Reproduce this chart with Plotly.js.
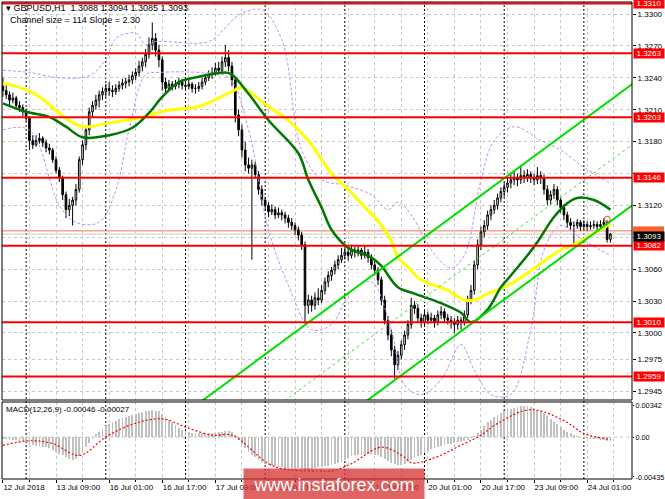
<!DOCTYPE html>
<html><head><meta charset="utf-8">
<script src="https://cdn.plot.ly/plotly-3.0.1.min.js"></script>
<style>html,body{margin:0;padding:0;background:#fff}#chart{width:665px;height:499px}</style>
</head><body><div id="chart"></div>
<script>
// ---- DATA ----
const barOpen = [1.3232,1.3228,1.3224,1.3219,1.3221,1.3214,1.3212,1.3208,1.3202,1.3181,1.3177,1.3181,1.3183,1.3179,1.3174,1.3172,1.3163,1.3153,1.3146,1.3130,1.3116,1.3120,1.3125,1.3135,1.3163,1.3177,1.3191,1.3208,1.3214,1.3219,1.3224,1.3227,1.3230,1.3228,1.3227,1.3230,1.3233,1.3235,1.3236,1.3238,1.3242,1.3245,1.3251,1.3255,1.3262,1.3271,1.3277,1.3266,1.3257,1.3236,1.3230,1.3234,1.3232,1.3234,1.3236,1.3233,1.3232,1.3234,1.3230,1.3230,1.3232,1.3236,1.3240,1.3243,1.3245,1.3249,1.3247,1.3255,1.3259,1.3251,1.3238,1.3205,1.3191,1.3172,1.3158,1.3155,1.3158,1.3149,1.3135,1.3125,1.3120,1.3114,1.3116,1.3111,1.3113,1.3111,1.3108,1.3104,1.3101,1.3097,1.3092,1.3083,1.3026,1.3031,1.3026,1.3033,1.3031,1.3040,1.3048,1.3054,1.3059,1.3064,1.3069,1.3073,1.3076,1.3073,1.3078,1.3076,1.3078,1.3073,1.3076,1.3071,1.3064,1.3059,1.3050,1.3031,1.3012,1.2998,1.2984,1.2970,1.2979,1.2989,1.2998,1.3008,1.3026,1.3023,1.3014,1.3010,1.3017,1.3012,1.3014,1.3010,1.3017,1.3020,1.3014,1.3012,1.3010,1.3008,1.3012,1.3010,1.3017,1.3031,1.3040,1.3064,1.3083,1.3095,1.3101,1.3111,1.3116,1.3120,1.3127,1.3133,1.3137,1.3141,1.3144,1.3146,1.3144,1.3148,1.3146,1.3149,1.3146,1.3144,1.3148,1.3146,1.3135,1.3125,1.3130,1.3135,1.3125,1.3118,1.3111,1.3104,1.3101,1.3101,1.3104,1.3100,1.3102,1.3100,1.3101,1.3102,1.3100,1.3102,1.3104,1.3088];
const barHigh = [1.3240,1.3233,1.3227,1.3226,1.3223,1.3218,1.3215,1.3211,1.3204,1.3186,1.3186,1.3188,1.3185,1.3182,1.3178,1.3174,1.3166,1.3156,1.3148,1.3133,1.3126,1.3128,1.3140,1.3166,1.3181,1.3195,1.3212,1.3218,1.3224,1.3228,1.3231,1.3234,1.3236,1.3233,1.3234,1.3237,1.3239,1.3240,1.3243,1.3246,1.3249,1.3256,1.3259,1.3267,1.3278,1.3292,1.3282,1.3271,1.3260,1.3240,1.3238,1.3237,1.3238,1.3240,1.3239,1.3237,1.3238,1.3236,1.3234,1.3236,1.3240,1.3244,1.3247,1.3250,1.3254,1.3255,1.3260,1.3271,1.3266,1.3255,1.3241,1.3210,1.3196,1.3180,1.3165,1.3163,1.3161,1.3152,1.3139,1.3128,1.3123,1.3121,1.3119,1.3118,1.3116,1.3114,1.3111,1.3108,1.3104,1.3100,1.3095,1.3086,1.3036,1.3035,1.3038,1.3042,1.3045,1.3052,1.3058,1.3062,1.3068,1.3073,1.3080,1.3082,1.3080,1.3083,1.3081,1.3082,1.3080,1.3082,1.3079,1.3074,1.3068,1.3062,1.3053,1.3035,1.3016,1.3003,1.2988,1.2983,1.2993,1.3002,1.3012,1.3033,1.3030,1.3027,1.3018,1.3022,1.3020,1.3019,1.3017,1.3021,1.3025,1.3023,1.3018,1.3016,1.3014,1.3016,1.3015,1.3021,1.3035,1.3045,1.3068,1.3088,1.3100,1.3106,1.3115,1.3120,1.3125,1.3131,1.3137,1.3141,1.3146,1.3150,1.3152,1.3150,1.3158,1.3153,1.3154,1.3152,1.3150,1.3156,1.3152,1.3149,1.3139,1.3134,1.3140,1.3138,1.3128,1.3121,1.3114,1.3108,1.3105,1.3107,1.3106,1.3106,1.3105,1.3105,1.3106,1.3105,1.3106,1.3108,1.3106,1.3094];
const barLow = [1.3222,1.3220,1.3214,1.3216,1.3210,1.3208,1.3204,1.3199,1.3172,1.3173,1.3175,1.3178,1.3175,1.3170,1.3168,1.3160,1.3150,1.3142,1.3125,1.3108,1.3110,1.3101,1.3120,1.3132,1.3158,1.3172,1.3186,1.3203,1.3210,1.3212,1.3219,1.3222,1.3223,1.3222,1.3224,1.3227,1.3229,1.3230,1.3232,1.3234,1.3238,1.3241,1.3246,1.3250,1.3258,1.3266,1.3260,1.3250,1.3228,1.3225,1.3227,1.3228,1.3229,1.3230,1.3229,1.3228,1.3229,1.3226,1.3225,1.3227,1.3229,1.3233,1.3237,1.3239,1.3242,1.3243,1.3244,1.3250,1.3246,1.3232,1.3198,1.3185,1.3165,1.3152,1.3150,1.3069,1.3145,1.3130,1.3120,1.3115,1.3109,1.3111,1.3107,1.3108,1.3106,1.3103,1.3099,1.3097,1.3092,1.3087,1.3078,1.3009,1.3018,1.3020,1.3022,1.3026,1.3028,1.3036,1.3043,1.3049,1.3055,1.3060,1.3066,1.3069,1.3068,1.3070,1.3071,1.3072,1.3069,1.3070,1.3066,1.3060,1.3054,1.3045,1.3026,1.3008,1.2993,1.2978,1.2957,1.2965,1.2975,1.2984,1.2994,1.3004,1.3018,1.3010,1.3005,1.3007,1.3008,1.3009,1.3005,1.3007,1.3013,1.3010,1.3008,1.3004,1.3000,1.3003,1.3003,1.3007,1.3014,1.3027,1.3036,1.3060,1.3078,1.3090,1.3097,1.3106,1.3112,1.3116,1.3123,1.3128,1.3132,1.3136,1.3139,1.3138,1.3140,1.3141,1.3142,1.3141,1.3139,1.3140,1.3140,1.3130,1.3120,1.3121,1.3126,1.3120,1.3113,1.3106,1.3099,1.3097,1.3082,1.3098,1.3096,1.3097,1.3096,1.3097,1.3098,1.3096,1.3097,1.3099,1.3085,1.3085];
const barClose = [1.3228,1.3224,1.3219,1.3221,1.3214,1.3212,1.3208,1.3202,1.3181,1.3177,1.3181,1.3183,1.3179,1.3174,1.3172,1.3163,1.3153,1.3146,1.3130,1.3116,1.3120,1.3125,1.3135,1.3163,1.3177,1.3191,1.3208,1.3214,1.3219,1.3224,1.3227,1.3230,1.3228,1.3227,1.3230,1.3233,1.3235,1.3236,1.3238,1.3242,1.3245,1.3251,1.3255,1.3262,1.3271,1.3277,1.3266,1.3257,1.3236,1.3230,1.3234,1.3232,1.3234,1.3236,1.3233,1.3232,1.3234,1.3230,1.3230,1.3232,1.3236,1.3240,1.3243,1.3245,1.3249,1.3247,1.3255,1.3259,1.3251,1.3238,1.3205,1.3191,1.3172,1.3158,1.3155,1.3158,1.3149,1.3135,1.3125,1.3120,1.3114,1.3116,1.3111,1.3113,1.3111,1.3108,1.3104,1.3101,1.3097,1.3092,1.3083,1.3026,1.3031,1.3026,1.3033,1.3031,1.3040,1.3048,1.3054,1.3059,1.3064,1.3069,1.3073,1.3076,1.3073,1.3078,1.3076,1.3078,1.3073,1.3076,1.3071,1.3064,1.3059,1.3050,1.3031,1.3012,1.2998,1.2984,1.2970,1.2979,1.2989,1.2998,1.3008,1.3026,1.3023,1.3014,1.3010,1.3017,1.3012,1.3014,1.3010,1.3017,1.3020,1.3014,1.3012,1.3010,1.3008,1.3012,1.3010,1.3017,1.3031,1.3040,1.3064,1.3083,1.3095,1.3101,1.3111,1.3116,1.3120,1.3127,1.3133,1.3137,1.3141,1.3144,1.3146,1.3144,1.3148,1.3146,1.3149,1.3146,1.3144,1.3148,1.3146,1.3135,1.3125,1.3130,1.3135,1.3125,1.3118,1.3111,1.3104,1.3101,1.3101,1.3104,1.3100,1.3102,1.3100,1.3101,1.3102,1.3100,1.3102,1.3104,1.3088,1.3093];

const macdHist = [-0.0002,-0.0002,-0.0003,-0.0003,-0.0003,-0.0004,-0.0004,-0.0005,
-0.0008,-0.0009,-0.0010,-0.0010,-0.0011,-0.0011,-0.0012,
-0.0014,-0.0016,-0.0018,-0.0020,-0.0022,-0.0024,-0.0025,-0.0024,
-0.0021,-0.0016,-0.0011,-0.0006,-0.0002,
0.0003,0.0006,0.0009,0.0012,
0.0014,0.0016,0.0018,0.0020,0.0021,0.0022,0.0023,0.0024,0.0025,0.0026,0.0027,0.0028,0.0029,0.0030,0.0029,0.0028,0.0025,0.0022,
0.0019,0.0016,0.0013,0.0010,0.0008,0.0007,
0.0006,0.0005,0.0005,0.0004,0.0004,0.0004,0.0004,0.0005,0.0005,0.0006,0.0006,0.0007,0.0007,0.0006,
0.0002,-0.0003,-0.0008,-0.0012,-0.0016,-0.0019,
-0.0022,-0.0025,-0.0027,-0.0029,-0.0030,-0.0031,-0.0032,-0.0033,-0.0033,-0.0034,-0.0034,-0.0034,-0.0034,-0.0034,-0.0035,-0.0036,-0.0036,-0.0035,-0.0034,-0.0033,
-0.0033,-0.0032,-0.0031,-0.0030,-0.0029,-0.0028,-0.0027,-0.0025,-0.0023,-0.0021,
-0.0020,-0.0019,-0.0019,-0.0018,-0.0018,-0.0018,-0.0019,-0.0020,
-0.0022,-0.0024,-0.0026,-0.0028,-0.0029,-0.0030,-0.0030,-0.0029,
-0.0027,-0.0025,-0.0023,-0.0021,-0.0019,-0.0017,-0.0015,-0.0013,-0.0012,
-0.0011,-0.0010,-0.0009,-0.0008,-0.0007,-0.0006,-0.0005,-0.0005,-0.0004,-0.0003,-0.0001,0.0001,
0.0004,0.0008,0.0012,
0.0016,0.0019,0.0022,0.0024,0.0026,0.0028,0.0030,0.0031,0.0032,0.0033,0.0034,0.0034,0.0034,0.0033,0.0032,0.0030,0.0028,0.0026,0.0023,0.0020,
0.0017,0.0014,0.0011,0.0008,0.0006,0.0004,0.0002,
0.0001,0.0000,-0.0001,-0.0001,-0.0002,-0.0002,-0.0002,-0.0003,-0.0003,-0.0004,-0.00046];

const signalBar = [0,8,15,23,31,39,48,55,63,69,80,85,95,99,105,114,121,123,129,139,144,149,159,169,175,183];
const signalVal = [-0.0009,-0.0004,-0.0007,-0.0020,0.0000,0.0014,0.0020,0.0011,0.0002,0.0002,-0.0029,-0.0035,-0.0037,-0.0037,-0.0029,-0.0011,-0.0022,-0.0028,-0.0024,-0.0007,0.0002,0.0015,0.0030,0.0018,0.0004,-0.00027];

const maSlowBar = [0,9,19,24,31,42,49,59,67,71,72,80,86,92,99,105,107,113,117,119,122,126,134,139,142,146,153,168,172,180,183];
const maSlowVal = [1.3235,1.3226,1.3202,1.3194,1.3197,1.3203,1.3209,1.3213,1.3224,1.3230,1.3231,1.3213,1.3200,1.3181,1.3150,1.3132,1.3125,1.3105,1.3087,1.3071,1.3062,1.3050,1.3040,1.3031,1.3031,1.3037,1.3046,1.3078,1.3083,1.3097,1.3103];

const maFastBar = [0,7,14,19,24,32,39,44,48,53,59,67,69,74,80,89,92,96,99,104,111,114,119,124,132,138,141,146,150,153,160,166,170,173,178,183];
const maFastVal = [1.3216,1.3208,1.3203,1.3194,1.3184,1.3186,1.3193,1.3207,1.3222,1.3236,1.3241,1.3245,1.3243,1.3225,1.3200,1.3169,1.3144,1.3118,1.3097,1.3080,1.3071,1.3063,1.3043,1.3037,1.3028,1.3019,1.3010,1.3022,1.3043,1.3054,1.3081,1.3109,1.3122,1.3127,1.3125,1.3116];

const bandUpBar = [0,8,17,26,31,34,40,43,46,62,67,71,78,84,90,96,103,111,116,119,123,129,135,139,144,148,154,162,168,174,180,183];
const bandUpVal = [1.3247,1.3245,1.3240,1.3242,1.3257,1.3277,1.3282,1.3271,1.3274,1.3274,1.3287,1.3299,1.3304,1.3276,1.3172,1.3144,1.3139,1.3130,1.3116,1.3123,1.3111,1.3078,1.3061,1.3073,1.3144,1.3181,1.3194,1.3181,1.3172,1.3158,1.3146,1.3141];
const bandLoBar = [0,8,17,22,29,34,38,43,47,59,68,74,80,86,93,99,105,111,117,121,126,132,138,142,147,153,159,163,168,174,180,183];
const bandLoVal = [1.3191,1.3191,1.3120,1.3104,1.3104,1.3134,1.3191,1.3243,1.3245,1.3245,1.3240,1.3191,1.3097,1.3045,1.3003,1.3008,1.3040,1.3048,1.3003,1.2951,1.2942,1.2956,1.2989,1.2965,1.2942,1.2942,1.3003,1.3078,1.3101,1.3089,1.3078,1.3073];

// regression channel: two anchor bars, mid prices, half width
const channelBar = [60, 190];
const channelMid = [1.28791, 1.31781];
const channelHalf = 0.0057;

const levels = [1.3310, 1.3263, 1.3203, 1.3146, 1.3082, 1.3010, 1.2959];
const askLevel = 1.3096;
const bidLevel = 1.3093;
const alertBar = [182];
const alertPrice = [1.3107];

const priceTicks = [1.3300,1.3270,1.3240,1.3210,1.3180,1.3150,1.3120,1.3090,1.3060,1.3030,1.3000,1.2975,1.2945];
const priceTickLabels = ['1.3300','1.3270','1.3240','1.3210','1.3180','','1.3120','','1.3060','1.3030','1.3000','1.2975','1.2945'];
const timeTickBars = [0,16,32,48,64,80,96,112,128,144,160,176];
const timeTickLabels = ['12 Jul 2018','13 Jul 09:00','16 Jul 01:00','16 Jul 17:00','17 Jul 09:00','18 Jul 01:00','18 Jul 17:00','19 Jul 09:00','20 Jul 01:00','20 Jul 17:00','23 Jul 09:00','24 Jul 01:00'];
const daySeparatorBars = [7,31,55,79,103,127,151,175];
const macdTicks = [0.00342, 0, -0.00435];
const macdTickLabels = ['0.00342','0.00','-0.00435'];

// ---- LAYOUT HELPERS ----
const W = 665, H = 499, ML = 2, MR = 33, MT = 2, MB = 20;
const PW = W - ML - MR, PH = H - MT - MB;
const px = v => (v - ML) / PW;
const py = v => (H - MB - v) / PH;
const FONT = 'Liberation Sans, Arial, sans-serif';

const barIdx = barClose.map((_, i) => i);
const minorGrid = [];
for (let b = 8; b < 190; b += 16) minorGrid.push(b);

const traces = [];
traces.push({type:'candlestick', x:barIdx, open:barOpen, high:barHigh, low:barLow, close:barClose,
  xaxis:'x', yaxis:'y', whiskerwidth:0,
  increasing:{line:{color:'#000000', width:1}, fillcolor:'#ffffff'},
  decreasing:{line:{color:'#000000', width:1}, fillcolor:'#000000'},
  hoverinfo:'skip', showlegend:false});
traces.push({type:'scatter', mode:'lines', x:bandUpBar, y:bandUpVal, line:{color:'#c58cf0', width:1, dash:'3px,2px', shape:'spline'}, hoverinfo:'skip', showlegend:false});
traces.push({type:'scatter', mode:'lines', x:bandLoBar, y:bandLoVal, line:{color:'#c58cf0', width:1, dash:'3px,2px', shape:'spline'}, hoverinfo:'skip', showlegend:false});
traces.push({type:'scatter', mode:'lines', x:maSlowBar, y:maSlowVal, line:{color:'#ffff00', width:3, shape:'spline'}, hoverinfo:'skip', showlegend:false});
traces.push({type:'scatter', mode:'lines', x:maFastBar, y:maFastVal, line:{color:'#007800', width:2.5, shape:'spline'}, hoverinfo:'skip', showlegend:false});
traces.push({type:'scatter', mode:'lines', x:channelBar, y:channelMid.map(v => v + channelHalf), line:{color:'#00e000', width:2}, hoverinfo:'skip', showlegend:false});
traces.push({type:'scatter', mode:'lines', x:channelBar, y:channelMid.map(v => v - channelHalf), line:{color:'#00e000', width:2}, hoverinfo:'skip', showlegend:false});
traces.push({type:'scatter', mode:'lines', x:channelBar, y:channelMid, line:{color:'#40e040', width:1, dash:'3px,3px'}, hoverinfo:'skip', showlegend:false});
traces.push({type:'scatter', mode:'markers', x:alertBar, y:alertPrice, marker:{symbol:'circle-open', size:6, color:'#ff4040', line:{width:1}}, hoverinfo:'skip', showlegend:false});
traces.push({type:'bar', x:barIdx, y:macdHist, xaxis:'x', yaxis:'y2', width:0.55, marker:{color:'#c0c0c0', line:{width:0}}, hoverinfo:'skip', showlegend:false});
traces.push({type:'scatter', mode:'lines', x:signalBar, y:signalVal, xaxis:'x', yaxis:'y2', line:{color:'#ff0000', width:1.2, dash:'2px,2px', shape:'spline'}, hoverinfo:'skip', showlegend:false});

const shapes = [];
daySeparatorBars.forEach(b => shapes.push({type:'line', xref:'x', yref:'paper', x0:b, x1:b, y0:0, y1:1, line:{color:'#000000', width:1, dash:'2px,2px'}, layer:'below'}));
shapes.push({type:'line', xref:'paper', yref:'y', x0:0, x1:1, y0:bidLevel, y1:bidLevel, line:{color:'#c8c8c8', width:1}, layer:'below'});
shapes.push({type:'line', xref:'paper', yref:'y', x0:0, x1:1, y0:askLevel, y1:askLevel, line:{color:'#ff7040', width:1}, layer:'below'});
levels.forEach(l => shapes.push({type:'line', xref:'paper', yref:'y', x0:0, x1:1, y0:l, y1:l, line:{color:'#ff0000', width:2}, layer:'above'}));
shapes.push({type:'line', xref:'paper', yref:'y2', x0:0, x1:1, y0:0, y1:0, line:{color:'#c0c0c0', width:1, dash:'3px,3px'}, layer:'below'});
shapes.push({type:'rect', xref:'paper', yref:'y domain', x0:0, x1:1, y0:0, y1:1, line:{color:'#000000', width:1}, layer:'above'});
shapes.push({type:'rect', xref:'paper', yref:'y2 domain', x0:0, x1:1, y0:0, y1:1, line:{color:'#000000', width:1}, layer:'above'});
shapes.push({type:'rect', xref:'paper', yref:'y', x0:px(633), x1:px(664), y0:askLevel - 0.00042, y1:askLevel + 0.00042, line:{width:0}, fillcolor:'#ff6030', layer:'above'});

const annotations = [];
const fmt = v => v.toFixed(4);
levels.forEach(l => annotations.push({xref:'paper', yref:'y', x:1, y:l, xanchor:'left', yanchor:'middle', xshift:1, text:fmt(l), showarrow:false, bgcolor:'#ff0000', font:{family:FONT, size:8, color:'#ffffff'}, width:30, height:9, borderpad:0}));
annotations.push({xref:'paper', yref:'y', x:1, y:bidLevel, xanchor:'left', yanchor:'middle', xshift:1, yshift:-2, text:fmt(bidLevel), showarrow:false, bgcolor:'#000000', font:{family:FONT, size:8, color:'#ffffff'}, width:30, height:9, borderpad:0});
annotations.push({xref:'paper', yref:'paper', x:px(4), y:py(7.5), xanchor:'left', yanchor:'middle', text:'▾ GBPUSD,H1  1.3088 1.3094 1.3085 1.3093', showarrow:false, font:{family:FONT, size:9, color:'#000000'}});
annotations.push({xref:'paper', yref:'paper', x:px(8), y:py(19.5), xanchor:'left', yanchor:'middle', text:'Channel size = 114 Slope = 2.30', showarrow:false, font:{family:FONT, size:9, color:'#000000'}});
annotations.push({xref:'paper', yref:'paper', x:px(4), y:py(409), xanchor:'left', yanchor:'middle', text:'MACD(12,26,9) -0.00046 -0.00027', showarrow:false, font:{family:FONT, size:8, color:'#000000'}});
annotations.push({xref:'paper', yref:'paper', x:px(243), y:py(468), xanchor:'left', yanchor:'top', text:'www.instaforex.com', showarrow:false, bgcolor:'rgba(214,48,48,0.75)', width:180, height:31, borderpad:0, font:{family:'Liberation Sans, Arial, sans-serif', size:18, color:'#ffffff'}});

const gridColor = '#c8c8c8';
const layout = {
  width:W, height:H, margin:{l:ML, r:MR, t:MT, b:MB, pad:0},
  paper_bgcolor:'#ffffff', plot_bgcolor:'#ffffff', showlegend:false,
  bargap:0,
  xaxis:{domain:[0,1], range:[-0.27, 189.5], anchor:'y2', tickmode:'array', tickvals:timeTickBars, ticktext:timeTickLabels,
    tickangle:0, automargin:false,
    ticklabelposition:'outside right', ticks:'outside', ticklen:3, tickcolor:'#000000',
    tickfont:{family:FONT, size:8, color:'#000000'}, showgrid:true, gridcolor:gridColor, griddash:'3px,3px', gridwidth:1,
    minor:{tickmode:'array', tickvals:minorGrid, showgrid:true, gridcolor:gridColor, griddash:'3px,3px', ticks:'outside', ticklen:2, tickcolor:'#000000'},
    zeroline:false, showline:false, rangeslider:{visible:false}, fixedrange:true},
  yaxis:{domain:[py(400), 1], range:[1.29369, 1.33113], side:'right', tickmode:'array', tickvals:priceTicks, ticktext:priceTickLabels,
    automargin:false, ticks:'outside', ticklen:3, tickcolor:'#000000', tickfont:{family:FONT, size:8, color:'#000000'},
    showgrid:true, gridcolor:gridColor, griddash:'3px,3px', zeroline:false, showline:false, fixedrange:true},
  yaxis2:{domain:[0, py(402)], range:[-0.00457, 0.00383], side:'right', tickmode:'array', tickvals:macdTicks, ticktext:macdTickLabels,
    automargin:false, ticks:'outside', ticklen:1, tickcolor:'#000000', tickfont:{family:FONT, size:7.3, color:'#000000'},
    showgrid:false, zeroline:false, showline:false, fixedrange:true},
  shapes:shapes, annotations:annotations
};
Plotly.newPlot('chart', traces, layout, {staticPlot:true, displayModeBar:false});
</script></body></html>
